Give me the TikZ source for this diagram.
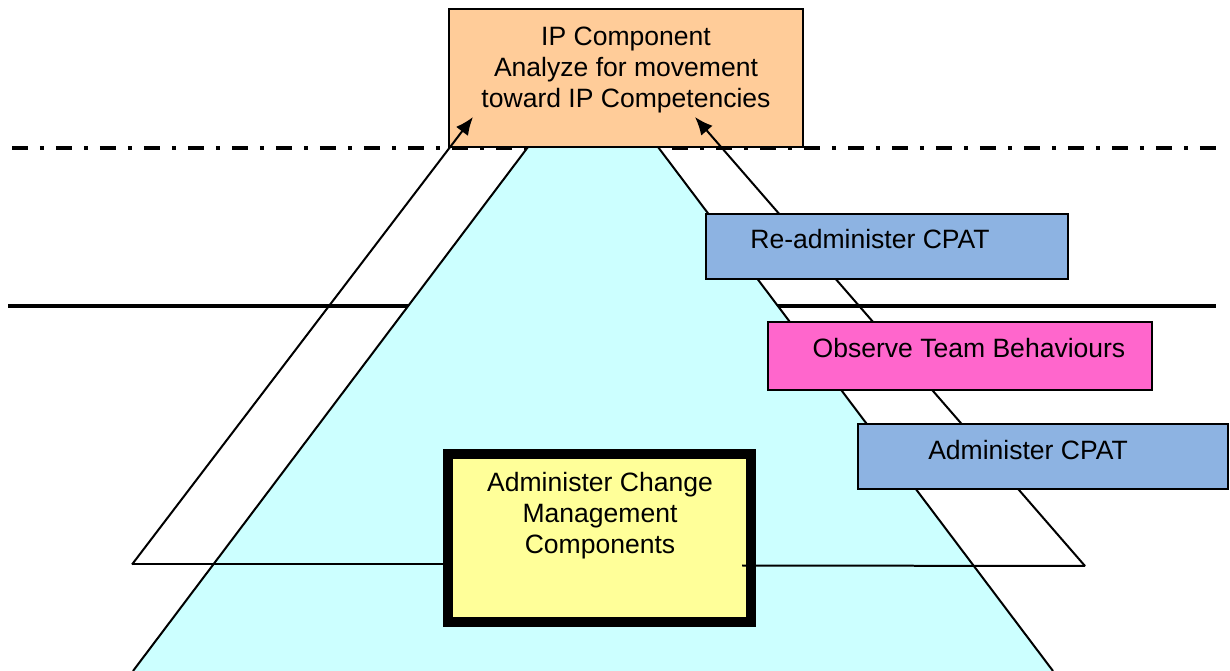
\documentclass[tikz,border=0pt]{standalone}
\usepackage{fontspec}
\setmainfont{Liberation Sans}
\usetikzlibrary{arrows.meta,positioning,fit}
\definecolor{ipOrange}{RGB}{255,204,153}
\definecolor{pyrCyan}{RGB}{204,255,255}
\definecolor{cpatBlue}{RGB}{141,179,226}
\definecolor{obsPink}{RGB}{255,102,204}
\definecolor{cmYellow}{RGB}{255,255,153}

\begin{document}
\begin{tikzpicture}[x=0.02cm, y=-0.02cm,
    every node/.style={font=\fontsize{15.1}{17.6}\selectfont},
    box/.style={draw, line width=0.04cm, inner sep=0pt},
    conn/.style={line width=0.04cm},
    lbl/.style={align=center, inner sep=0pt}]
  \useasboundingbox (0,0) rectangle (1230,671);
  % Level lines
  \draw[line width=0.08cm, dash pattern=on 0.32cm off 0.24cm on 0.08cm off 0.24cm] (12,147.7) -- (1220,147.7);
  \draw[line width=0.086cm] (8,305.7) -- (1216,305.7);
  % Pyramid
  \fill[pyrCyan] (528,147) -- (658,147) -- (1053,671) -- (133,671) -- cycle;
  \draw[conn] (528,147) -- (133,671);
  \draw[conn] (658,147) -- (1053,671);
  % IP box
  \node[box, fill=ipOrange, fit={(449,9) (803,147)}] (ip) {};
  \node[lbl] (ipText) at (626,70) {IP Component\\Analyze for movement\\toward IP Competencies};
  % Change management box
  \node[draw, line width=0.2cm, fill=cmYellow, inner sep=0pt, fit={(448,454) (751,622)}] (change) {};
  \node[lbl] (changeText) at (600,516) {Administer Change\\Management\\Components};
  % Connectors
  \coordinate (lFoot) at (132,564.5);
  \coordinate (rFoot) at (1085,566);
  \coordinate (rIn) at (742,565.5);
  \coordinate (lTip) at (473,117);
  \coordinate (rTip) at (695,117);
  \draw[conn] (lFoot) -- (lFoot -| change.west);
  \draw[conn] (rIn) -- (rFoot);
  \draw[conn, -{Latex[length=0.36cm, width=0.3cm]}] (lFoot) -- (lTip);
  \draw[conn, -{Latex[length=0.36cm, width=0.3cm]}] (rFoot) -- (rTip);
  % CPAT steps
  \node[box, fill=cpatBlue, fit={(706,214) (1068,279)}] (readmin) {};
  \node[lbl] (readminText) at (870,239) {Re-administer CPAT};
  \node[box, fill=obsPink, fit={(768,322) (1152,390)}] (observe) {};
  \node[lbl] (observeText) at (969,348) {Observe Team Behaviours};
  \node[box, fill=cpatBlue, fit={(858,424) (1228,489)}] (admin) {};
  \node[lbl] (adminText) at (1028,450) {Administer CPAT};
\end{tikzpicture}
\end{document}
